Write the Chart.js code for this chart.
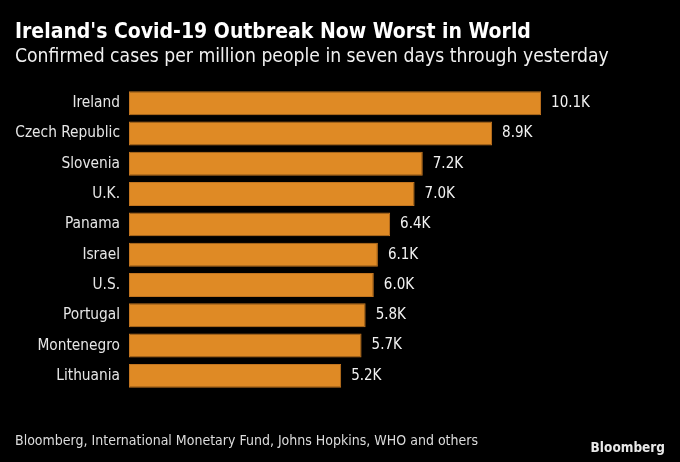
<!doctype html>
<html lang="en">
  <head>
    <meta charset="utf-8">
    <title>Ireland's Covid-19 Outbreak</title>
    <script src="https://cdn.jsdelivr.net/npm/chart.js@4/dist/chart.umd.min.js"></script>
    <style>
      html, body { margin: 0; padding: 0; background: #000; }
      canvas { display: block; }
    </style>
  </head>
  <body>
    <canvas id="myChart" width="680" height="462"></canvas>
    <script>
        // cases per million, in thousands
        var countries = ['Ireland', 'Czech Republic', 'Slovenia', 'U.K.', 'Panama',
                         'Israel', 'U.S.', 'Portugal', 'Montenegro', 'Lithuania']
        var cases = [10.1, 8.9, 7.2, 7.0, 6.4, 6.1, 6.0, 5.8, 5.7, 5.2]
        var valueLabels = ['10.1K', '8.9K', '7.2K', '7.0K', '6.4K', '6.1K', '6.0K', '5.8K', '5.7K', '5.2K']

        var FONT = "'DejaVu Sans Condensed', 'Liberation Sans Narrow', 'DejaVu Sans', sans-serif"
        Chart.defaults.font.family = FONT

        // value labels at the end of each bar
        var barLabels = {
            id: 'barLabels',
            afterDatasetsDraw: function(chart) {
                var ctx = chart.ctx
                var meta = chart.getDatasetMeta(0)
                ctx.save()
                ctx.font = '15px ' + FONT
                ctx.fillStyle = '#f2f2f2'
                ctx.textBaseline = 'middle'
                ctx.textAlign = 'left'
                meta.data.forEach(function(bar, i) {
                    ctx.fillText(valueLabels[i], bar.x + 10, bar.y)
                })
                ctx.restore()
            }
        }

        // source line and logo
        var footer = {
            id: 'footer',
            afterDraw: function(chart) {
                var ctx = chart.ctx
                ctx.save()
                ctx.textBaseline = 'middle'
                ctx.fillStyle = '#dcdcdc'
                ctx.font = '14px ' + FONT
                ctx.textAlign = 'left'
                ctx.fillText('Bloomberg, International Monetary Fund, Johns Hopkins, WHO and others', 15, 441)
                ctx.fillStyle = '#e8e8e8'
                ctx.font = 'bold 13.5px ' + FONT
                ctx.textAlign = 'right'
                ctx.fillText('Bloomberg', 665, 448)
                ctx.restore()
            }
        }

        var ctx = document.getElementById('myChart').getContext('2d')
        var chart = new Chart(ctx, {
            type: 'bar',
            data: {
                labels: countries,
                datasets: [{
                    data: cases,
                    backgroundColor: '#df8a25',
                    borderColor: '#c27520',
                    borderWidth: 1,
                    borderSkipped: false,
                    categoryPercentage: 1,
                    barPercentage: 0.79
                }]
            },
            plugins: [barLabels, footer],
            options: {
                indexAxis: 'y',
                responsive: false,
                animation: false,
                devicePixelRatio: 1,
                layout: { padding: { left: 15, right: 41, top: 0, bottom: 71 } },
                scales: {
                    x: { display: false, min: 0, max: 12.5 },
                    y: {
                        grid: { display: false, drawTicks: false },
                        border: { display: false },
                        ticks: { color: '#e6e6e6', font: { size: 15.3 }, padding: 9 },
                        afterFit: function(scale) { scale.width = 114 }
                    }
                },
                plugins: {
                    legend: { display: false },
                    tooltip: { enabled: false },
                    title: {
                        display: true,
                        text: "Ireland's Covid-19 Outbreak Now Worst in World",
                        align: 'start',
                        color: '#ffffff',
                        font: { size: 21, weight: 'bold', lineHeight: 1.2 },
                        padding: { top: 20, bottom: 0 }
                    },
                    subtitle: {
                        display: true,
                        text: 'Confirmed cases per million people in seven days through yesterday',
                        align: 'start',
                        color: '#f0f0f0',
                        font: { size: 19.2, weight: 'normal', lineHeight: 1.2 },
                        padding: { top: 0.4, bottom: 19.4 }
                    }
                }
            }
        })
    </script>
  </body>
</html>
